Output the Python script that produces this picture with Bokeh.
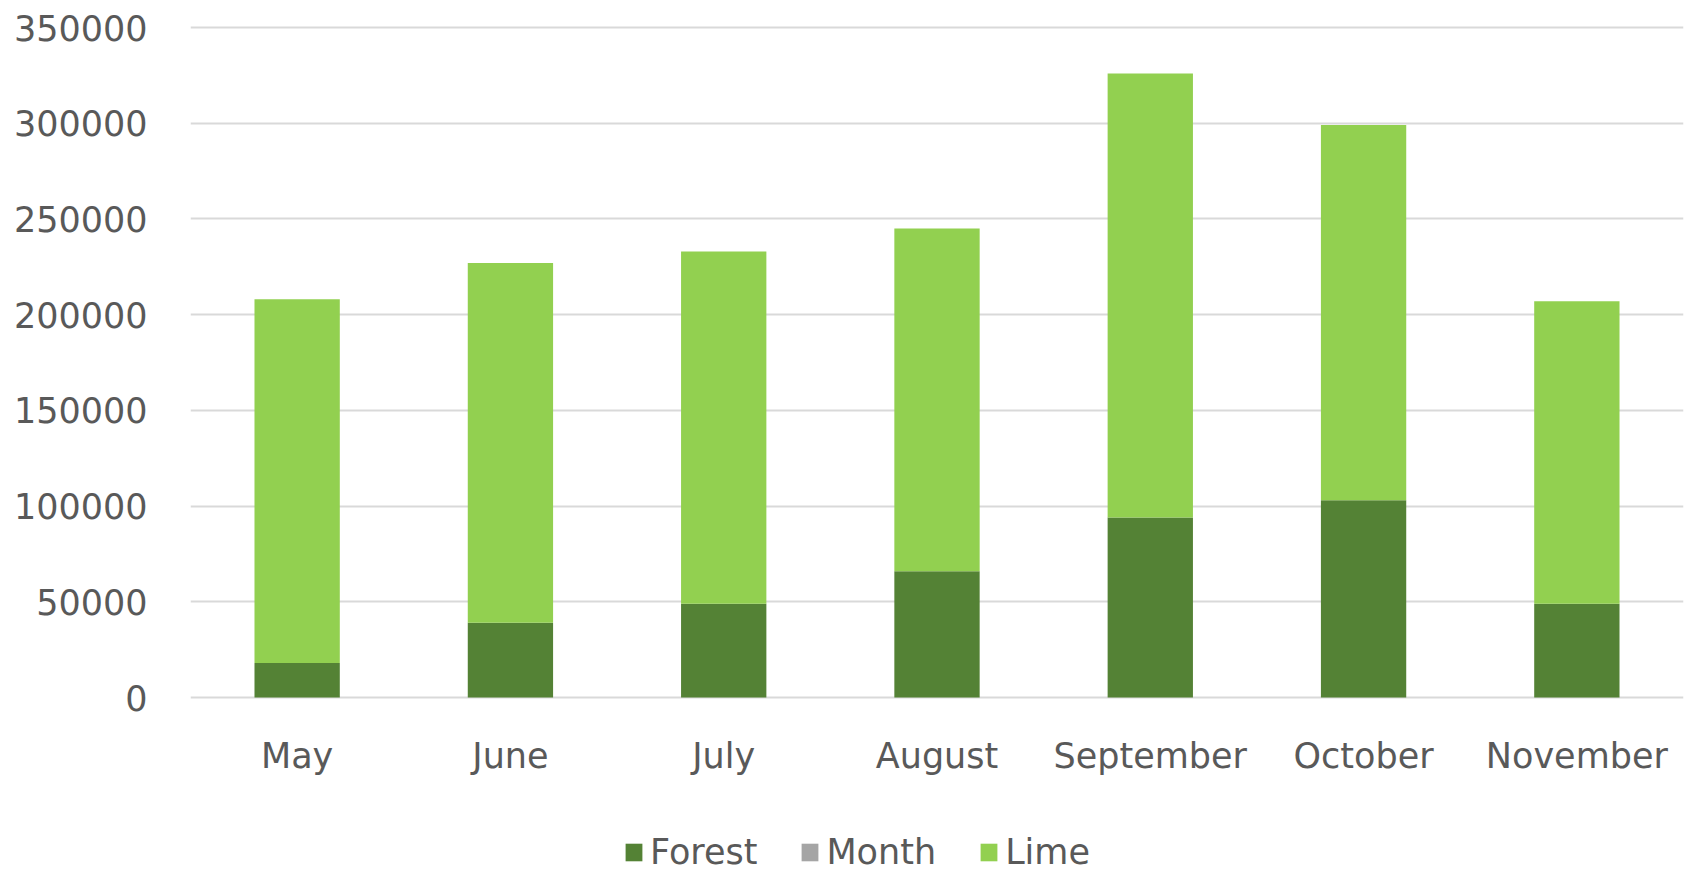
from bokeh.plotting import figure
from bokeh.models import ColumnDataSource, FactorRange, Range1d, FixedTicker, NumeralTickFormatter, Legend
from bokeh.embed import file_html
from bokeh.resources import INLINE

months = ["May", "June", "July", "August", "September", "October", "November"]
forest = [18000, 39000, 49000, 66000, 94000, 103000, 49000]
month_vals = [5, 6, 7, 8, 9, 10, 11]
lime = [190000, 188000, 184000, 179000, 232000, 196000, 158000]
y_ticks = [0, 50000, 100000, 150000, 200000, 250000, 300000, 350000]

series = ["Forest", "Month", "Lime"]
colors = ["#548235", "#A5A5A5", "#92D050"]

source = ColumnDataSource(dict(months=months, Forest=forest, Month=month_vals, Lime=lime))

FONT = "DejaVu Sans"
TXT = "#595959"

W, H = 1697, 872
FRAME_TOP = 8
TOP, ZERO_Y = 27, 697          # pixel rows of the 350000 and 0 gridlines
y_max = y_ticks[-1]
per_px = y_max / (ZERO_Y - TOP)
y_min = -per_px * (H - ZERO_Y)          # room below zero for labels and legend
y_end = y_max + per_px * (TOP - FRAME_TOP)

p = figure(x_range=FactorRange(factors=months, range_padding=0),
           y_range=Range1d(y_min, y_end),
           width=W, height=H, output_backend="svg", toolbar_location=None,
           min_border_left=190, min_border_right=14, min_border_top=FRAME_TOP, min_border_bottom=0)

rs = p.vbar_stack(series, x="months", width=0.4, color=colors, line_color=None, source=source)

p.outline_line_color = None
p.background_fill_color = "white"
p.xgrid.grid_line_color = None
p.ygrid.grid_line_color = "#D9D9D9"
p.ygrid.grid_line_width = 2

p.xaxis.fixed_location = 0
p.yaxis.ticker = FixedTicker(ticks=y_ticks)
p.yaxis.formatter = NumeralTickFormatter(format="0")
for ax in (p.xaxis, p.yaxis):
    ax.axis_line_color = None
    ax.major_tick_line_color = None
    ax.minor_tick_line_color = None
    ax.major_tick_out = 0
    ax.major_tick_in = 0
    ax.major_label_text_font = FONT
    ax.major_label_text_color = TXT
    ax.major_label_text_font_size = "35px"
p.yaxis.major_label_standoff = 43
p.xaxis.major_label_standoff = 38

legend = Legend(items=[(s, [r]) for s, r in zip(series, rs)],
                orientation="horizontal", location=(433, 0),
                padding=0, margin=0, spacing=42, label_standoff=6,
                glyph_width=21, glyph_height=22,
                label_text_font=FONT, label_text_font_size="35px", label_text_color=TXT,
                border_line_color=None, background_fill_alpha=0)
p.add_layout(legend, "center")

open("out.html", "w").write(file_html(p, INLINE))
